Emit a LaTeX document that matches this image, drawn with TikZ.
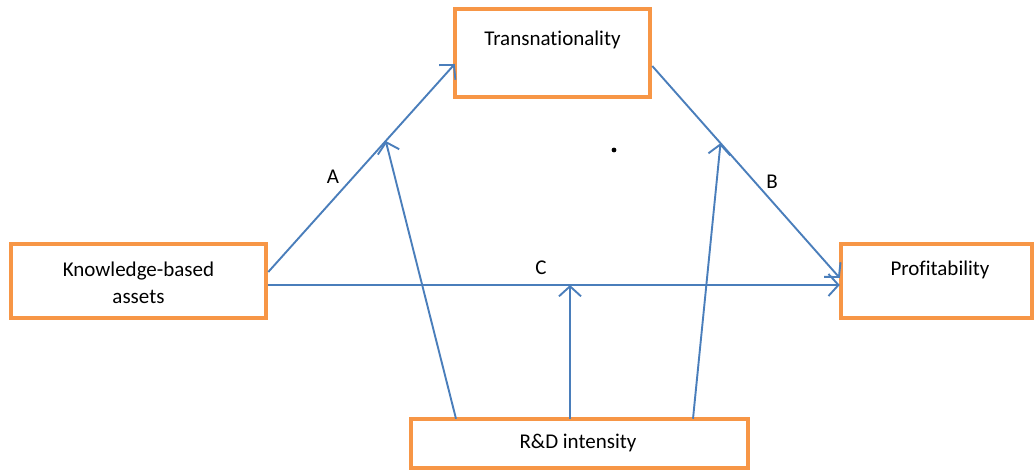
\documentclass[tikz,border=0pt]{standalone}
\usepackage{fontspec}
\setmainfont{Carlito}[Ligatures=NoCommon]
\usetikzlibrary{arrows.meta,calc}
\definecolor{boxorange}{HTML}{F79646}
\definecolor{linkblue}{HTML}{4A7EBB}
\begin{document}
\begin{tikzpicture}[x=1pt,y=-1pt,
  box/.style={draw=boxorange,line width=4.5pt,fill=white,inner sep=0pt},
  txt/.style={font=\fontsize{21}{27}\selectfont,inner sep=0pt,align=center},
  link/.style={draw=linkblue,line width=1.9pt,-{Straight Barb[length=10pt,width=22pt,line width=1.9pt]}}]
\useasboundingbox (0,0) rectangle (1034,470);
% boxes
\node[box,minimum width=255pt,minimum height=74pt] (kb) at (138.5,281) {};
\node[box,minimum width=195pt,minimum height=88pt] (tr) at (552.5,53) {};
\node[box,minimum width=191pt,minimum height=74pt] (pr) at (936.5,281) {};
\node[box,minimum width=337pt,minimum height=49pt] (rd) at (579.5,443.5) {};
% box texts
\node[txt] (kbt) at (138.5,283) {Knowledge-based\\assets};
\node[txt] (trt) at (552.5,40) {Transnationality};
\node[txt] (prt) at (940,270) {Profitability};
\node[txt] (rdt) at (578,443) {R\&D intensity};
% end points of the paths
\coordinate (a1) at ($(kb.east)+(0,-9)$);
\coordinate (a2) at ($(tr.west)+(2,11)$);
\coordinate (b1) at ($(tr.east)+(0,13)$);
\coordinate (b2) at ($(pr.west)+(1,-3)$);
\coordinate (c1) at ($(kb.east)+(0,4)$);
\coordinate (c2) at ($(pr.west)+(1,4)$);
\path (a1) -- (a2) coordinate[pos=0.63] (ma);
\path (b1) -- (b2) coordinate[pos=0.364] (mb);
\coordinate (mc) at (570,0 |- c1);
\coordinate (r1) at ($(rd.north)+(-123.5,2)$);
\coordinate (r3) at ($(rd.north)+(113.5,2)$);
% paths A, B, C
\draw[link] (a1) -- (a2);
\draw[link] (b1) -- (b2);
\draw[link] (c1) -- (c2);
% moderation by R&D intensity
\draw[link] (r1) -- (ma);
\draw[link] (rd.north -| mc) ++(0,2) -- (mc);
\draw[link] (r3) -- (mb);
% labels
\node[txt] (la) at (333,177) {A};
\node[txt] (lb) at (772,182) {B};
\node[txt] (lc) at (541,268) {C};
\fill (614,150) circle (2.4pt);
\end{tikzpicture}
\end{document}
